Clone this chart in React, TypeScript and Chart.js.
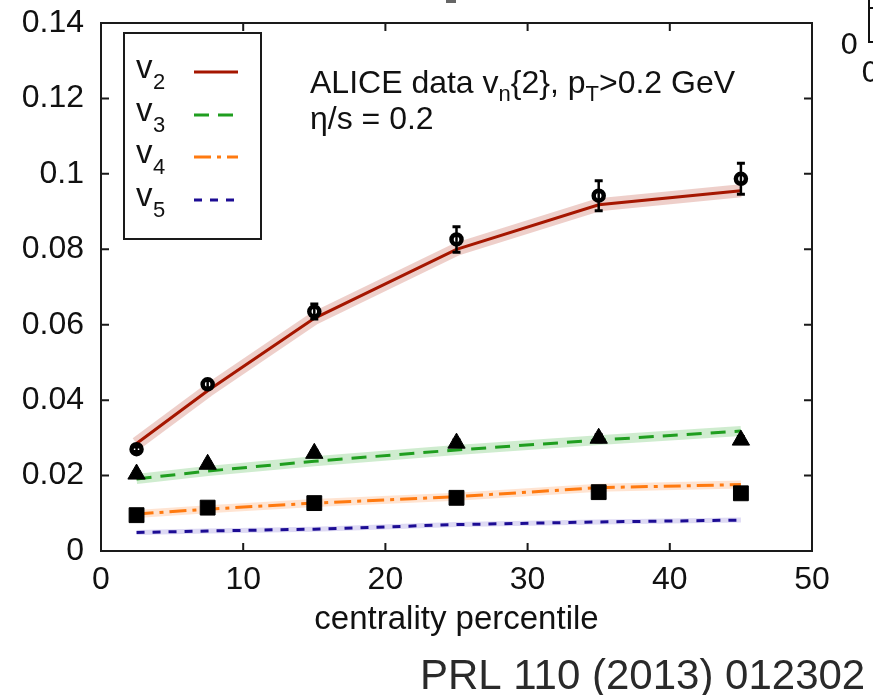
import React, { useEffect, useRef } from 'react';
import { Chart, registerables } from 'chart.js';
Chart.register(...registerables);

// ---- data ----
const centrality = [2.5, 7.5, 15, 25, 35, 45];

const v2Data = [0.0270, 0.0442, 0.0635, 0.0826, 0.0942, 0.0987];
const v2Err = [0.0006, 0.0010, 0.0020, 0.0034, 0.0040, 0.0041];
const v3Data = [0.0204, 0.0230, 0.0259, 0.0286, 0.0299, 0.0294];
const v3Err = [0.0006, 0.0006, 0.0007, 0.0008, 0.0009, 0.0009];
const v4Data = [0.0095, 0.0115, 0.0127, 0.0141, 0.0156, 0.0153];
const v4Err = [0.0004, 0.0004, 0.0004, 0.0005, 0.0005, 0.0005];

const v2Hydro = [0.0285, 0.0425, 0.0617, 0.0800, 0.0918, 0.0955];
const v3Hydro = [0.0191, 0.0212, 0.0238, 0.0268, 0.0294, 0.0318];
const v4Hydro = [0.0098, 0.0111, 0.0127, 0.0144, 0.0168, 0.0176];
const v5Hydro = [0.0049, 0.0053, 0.0058, 0.0070, 0.0077, 0.0082];

const legendLabels = ['2', '3', '4', '5'];
const xTickValues = [0, 10, 20, 30, 40, 50];
const yTickValues = [0, 0.02, 0.04, 0.06, 0.08, 0.1, 0.12, 0.14];

const FONT = "'Liberation Sans', Arial, Helvetica, sans-serif";

const pts = (ys: number[]) => centrality.map((x, i) => ({ x, y: ys[i] }));

const lineColors = ['#a51600', '#1f9e1f', '#ff7a10', '#1c0c94'];
const lineDashes: number[][] = [[], [15, 9], [17, 6, 4, 6], [8, 8]];
const bandColors = [
  'rgba(190,70,50,0.26)',
  'rgba(70,180,70,0.26)',
  'rgba(255,150,80,0.26)',
  'rgba(90,70,200,0.2)',
];
const bandWidths = [13, 10, 8, 5];

const framePlugin = {
  id: 'frameAndAnnotations',
  afterDatasetsDraw(chart: any) {
    const ctx = chart.ctx;
    const xs = chart.scales.x;
    const ys = chart.scales.y;
    ctx.save();
    ctx.strokeStyle = '#000';
    chart.data.datasets.forEach((ds: any) => {
      if (!ds.errors) return;
      ds.data.forEach((p: any, j: number) => {
        const x = xs.getPixelForValue(p.x);
        const y1 = ys.getPixelForValue(p.y + ds.errors[j]);
        const y2 = ys.getPixelForValue(p.y - ds.errors[j]);
        ctx.lineWidth = 2.5;
        ctx.beginPath();
        ctx.moveTo(x, y1);
        ctx.lineTo(x, y2);
        ctx.stroke();
        ctx.lineWidth = 3;
        ctx.beginPath();
        ctx.moveTo(x - 4, y1);
        ctx.lineTo(x + 4, y1);
        ctx.moveTo(x - 4, y2);
        ctx.lineTo(x + 4, y2);
        ctx.stroke();
      });
    });
    ctx.restore();
  },
  afterDraw(chart: any) {
    const ctx = chart.ctx;
    const { left, right, top, bottom } = chart.chartArea;
    const xs = chart.scales.x;
    const ys = chart.scales.y;
    ctx.save();
    // frame
    ctx.strokeStyle = '#1a1a1a';
    ctx.lineWidth = 2;
    ctx.strokeRect(left, top, right - left, bottom - top);
    // inward ticks, mirrored
    ctx.beginPath();
    xTickValues.forEach((v) => {
      const x = xs.getPixelForValue(v);
      ctx.moveTo(x, bottom);
      ctx.lineTo(x, bottom - 8);
      ctx.moveTo(x, top);
      ctx.lineTo(x, top + 8);
    });
    yTickValues.forEach((v) => {
      const y = ys.getPixelForValue(v);
      ctx.moveTo(left, y);
      ctx.lineTo(left + 8, y);
      ctx.moveTo(right, y);
      ctx.lineTo(right - 8, y);
    });
    ctx.stroke();

    // legend box
    const lx = 124, ly = 33, lw = 137, lh = 206;
    ctx.lineWidth = 2;
    ctx.strokeStyle = '#1a1a1a';
    ctx.strokeRect(lx, ly, lw, lh);
    const rowY = [72, 115, 157, 200];
    const lineDs = chart.data.datasets.filter((d: any) => d.isHydro);
    rowY.forEach((ry, i) => {
      ctx.fillStyle = '#111';
      ctx.font = `33px ${FONT}`;
      ctx.textBaseline = 'alphabetic';
      ctx.textAlign = 'left';
      ctx.fillText('v', 136, ry + 6);
      ctx.font = `22px ${FONT}`;
      ctx.fillText(legendLabels[i], 153, ry + 17);
      const ds = lineDs[i];
      ctx.strokeStyle = ds.borderColor;
      ctx.lineWidth = 3;
      ctx.setLineDash(ds.borderDash || []);
      ctx.beginPath();
      ctx.moveTo(194, ry);
      ctx.lineTo(238, ry);
      ctx.stroke();
      ctx.setLineDash([]);
    });

    // annotation
    ctx.fillStyle = '#111';
    const drawRuns = (x0: number, base: number, runs: [string, boolean][]) => {
      let x = x0;
      runs.forEach(([t, sub]) => {
        ctx.font = sub ? `22px ${FONT}` : `32px ${FONT}`;
        ctx.fillText(t, x, sub ? base + 8 : base);
        x += ctx.measureText(t).width;
      });
    };
    drawRuns(310, 93, [
      ['ALICE data v', false],
      ['n', true],
      ['{2}, p', false],
      ['T', true],
      ['>0.2 GeV', false],
    ]);
    drawRuns(310, 129, [['\u03b7/s = 0.2', false]]);

    // reference
    ctx.font = `42px ${FONT}`;
    ctx.fillStyle = '#2a2a2a';
    ctx.fillText('PRL 110 (2013) 012302', 420, 689);

    // cut-off fragments of neighbouring panel
    ctx.font = `29px 'DejaVu Sans', sans-serif`;
    ctx.fillStyle = '#111';
    ctx.fillText('0', 840, 54);
    ctx.fillText('0', 861, 82);
    ctx.strokeStyle = '#111';
    ctx.lineWidth = 2;
    ctx.beginPath();
    ctx.moveTo(869, 0);
    ctx.lineTo(869, 42);
    ctx.lineTo(873, 42);
    ctx.moveTo(869, 8);
    ctx.lineTo(873, 8);
    ctx.stroke();
    ctx.fillStyle = '#666';
    ctx.fillRect(446, 0, 10, 3);
    ctx.restore();
  },
};

export default function App() {
  const ref = useRef<HTMLCanvasElement | null>(null);
  useEffect(() => {
    if (!ref.current) return;
    const hydro = [v2Hydro, v3Hydro, v4Hydro, v5Hydro];
    const datasets: any[] = [
      {
        label: 'v2 data',
        data: pts(v2Data),
        errors: v2Err,
        showLine: false,
        pointStyle: 'circle',
        pointRadius: 5,
        pointBorderWidth: 4.5,
        pointBorderColor: '#000',
        pointBackgroundColor: '#fff',
        order: 0,
      },
      {
        label: 'v3 data',
        data: pts(v3Data),
        errors: v3Err,
        showLine: false,
        pointStyle: 'triangle',
        pointRadius: 10,
        pointBorderWidth: 1,
        pointBorderColor: '#000',
        pointBackgroundColor: '#000',
        order: 0,
      },
      {
        label: 'v4 data',
        data: pts(v4Data),
        errors: v4Err,
        showLine: false,
        pointStyle: 'rect',
        pointRadius: 10.5,
        pointBorderWidth: 1,
        pointBorderColor: '#000',
        pointBackgroundColor: '#000',
        order: 0,
      },
    ];
    hydro.forEach((h, i) => {
      datasets.push({
        label: 'v' + legendLabels[i],
        isHydro: true,
        data: pts(h),
        borderColor: lineColors[i],
        borderWidth: 3,
        borderDash: lineDashes[i],
        pointRadius: 0,
        fill: false,
        tension: 0,
        order: 1,
      });
    });
    hydro.forEach((h, i) => {
      datasets.push({
        label: 'band' + legendLabels[i],
        data: pts(h),
        borderColor: bandColors[i],
        borderWidth: bandWidths[i],
        borderCapStyle: 'butt',
        borderJoinStyle: 'round',
        pointRadius: 0,
        fill: false,
        order: 2,
      });
    });

    const chart = new Chart(ref.current, {
      type: 'line',
      data: { datasets },
      options: {
        responsive: false,
        animation: false,
        devicePixelRatio: 1,
        layout: { padding: { left: 0, right: 61, top: 23, bottom: 0 } },
        plugins: { legend: { display: false }, tooltip: { enabled: false } },
        scales: {
          x: {
            type: 'linear',
            min: 0,
            max: 50,
            afterFit: (s: any) => {
              s.height = 144;
              s.paddingLeft = 0;
              s.paddingRight = 0;
            },
            ticks: {
              stepSize: 10,
              padding: 10,
              color: '#111',
              font: { family: FONT, size: 32 },
              maxRotation: 0,
            },
            grid: { display: false, drawTicks: false },
            border: { display: false },
            title: {
              display: true,
              text: 'centrality percentile',
              color: '#111',
              font: { family: FONT, size: 33 },
              padding: { top: 0, bottom: 55 },
            },
          },
          y: {
            type: 'linear',
            min: 0,
            max: 0.14,
            afterFit: (s: any) => {
              s.width = 101;
              s.paddingTop = 0;
              s.paddingBottom = 0;
            },
            ticks: {
              stepSize: 0.02,
              padding: 17,
              color: '#111',
              font: { family: FONT, size: 32 },
              callback: (v: any) => String(Math.round(Number(v) * 100) / 100),
            },
            grid: { display: false, drawTicks: false },
            border: { display: false },
          },
        },
      },
      plugins: [framePlugin],
    } as any);
    return () => chart.destroy();
  }, []);

  return (
    <div
      style={{
        position: 'fixed',
        left: 0,
        top: 0,
        width: 873,
        height: 695,
        background: '#fff',
      }}
    >
      <canvas ref={ref} width={873} height={695} style={{ display: 'block' }} />
    </div>
  );
}
